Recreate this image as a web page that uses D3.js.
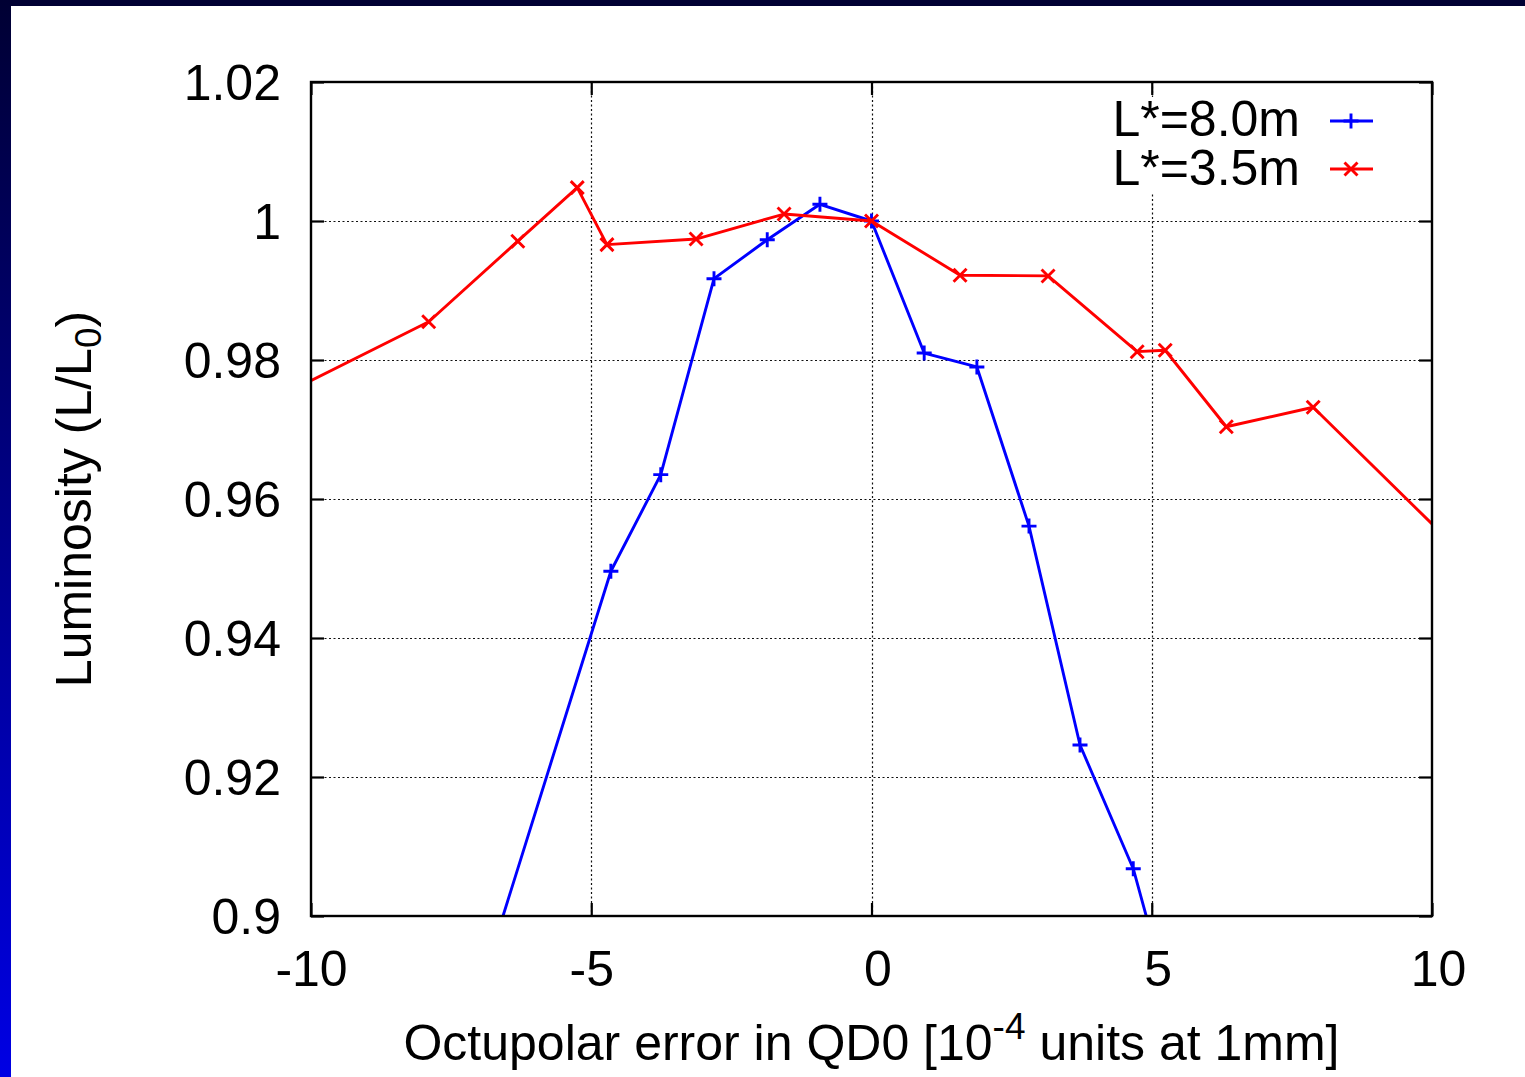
<!DOCTYPE html>
<html>
<head>
<meta charset="utf-8">
<script src="https://cdn.jsdelivr.net/npm/d3@7"></script>
<style>
  html, body { margin: 0; padding: 0; background: #fff; }
  svg { display: block; }
  text { font-family: "Liberation Sans", Arial, sans-serif; fill: #000; }
</style>
</head>
<body>
<svg id="chart" width="1525" height="1077"></svg>
<script>
// Octupolar error (10^-4 units at 1mm) and relative luminosity L/L0
const xLong = [-7.44, -4.65, -3.76, -2.81, -1.86, -0.92, 0, 0.94, 1.88, 2.81, 3.72, 4.67, 5.6];
const lumLong = [0.8777, 0.9496, 0.9635, 0.9917, 0.9973, 1.0024, 1.0, 0.981, 0.979, 0.9561, 0.9246, 0.9068, 0.8795];

const xShort = [-11.0, -7.9, -6.31, -5.25, -4.72, -3.13, -1.56, 0, 1.58, 3.15, 4.74, 5.24, 6.33, 7.88, 11.0];
const lumShort = [0.973, 0.9855, 0.9971, 1.0048, 0.9966, 0.9974, 1.001, 1.0, 0.9922, 0.9921, 0.9812, 0.9814, 0.9704, 0.9732, 0.9485];

const seriesNames = ["L*=8.0m", "L*=3.5m"];
const seriesColors = ["#0000ff", "#ff0000"];

const xTicks = [-10, -5, 0, 5, 10];
const xTickLabels = ["-10", "-5", "0", "5", "10"];
const yTicks = [0.9, 0.92, 0.94, 0.96, 0.98, 1.0, 1.02];
const yTickLabels = ["0.9", "0.92", "0.94", "0.96", "0.98", "1", "1.02"];

const W = 1525, H = 1077;
const plot = { left: 311, right: 1432, top: 82, bottom: 916 };
const FONT = 50;
const LW = 2.9;

const svg = d3.select("#chart");

// slide-style frame: dark strip on top, blue gradient strip on the left
const defs = svg.append("defs");
const grad = defs.append("linearGradient").attr("id", "sideGrad")
  .attr("x1", 0).attr("y1", 0).attr("x2", 0).attr("y2", 1);
grad.append("stop").attr("offset", "0%").attr("stop-color", "#000033");
grad.append("stop").attr("offset", "100%").attr("stop-color", "#0000e4");
svg.append("rect").attr("x", 0).attr("y", 0).attr("width", W).attr("height", H).attr("fill", "#fff");
svg.append("rect").attr("x", 0).attr("y", 0).attr("width", W).attr("height", 6).attr("fill", "#000033");
svg.append("rect").attr("x", 0).attr("y", 0).attr("width", 11).attr("height", H).attr("fill", "url(#sideGrad)");

defs.append("clipPath").attr("id", "plotClip").append("rect")
  .attr("x", plot.left).attr("y", plot.top)
  .attr("width", plot.right - plot.left).attr("height", plot.bottom - plot.top);

const x = d3.scaleLinear().domain([-10, 10]).range([plot.left, plot.right]);
const y = d3.scaleLinear().domain([0.9, 1.02]).range([plot.bottom, plot.top]);

// dotted grid
const grid = svg.append("g").attr("stroke", "#111").attr("stroke-width", 1.2)
  .attr("stroke-dasharray", "2,2.5");
grid.selectAll("line.gx").data(xTicks.filter(v => v > -10 && v < 10)).join("line")
  .attr("x1", d => Math.round(x(d)) + 0.5).attr("x2", d => Math.round(x(d)) + 0.5)
  .attr("y1", plot.top).attr("y2", plot.bottom);
grid.selectAll("line.gy").data(yTicks.filter(v => v > 0.9 && v < 1.02)).join("line")
  .attr("y1", d => Math.round(y(d)) + 0.5).attr("y2", d => Math.round(y(d)) + 0.5)
  .attr("x1", plot.left).attr("x2", plot.right);

// axes with inward ticks (mirrored on top/right)
const TICK = 13;
function styleAxis(g) {
  g.select(".domain").remove();
  g.selectAll(".tick line").attr("stroke", "#000").attr("stroke-width", 2.2);
  g.selectAll("text").style("font-size", FONT + "px").attr("fill", "#000");
}
const yLabel = d3.scaleOrdinal().domain(yTicks).range(yTickLabels);
const xLabel = d3.scaleOrdinal().domain(xTicks).range(xTickLabels);

svg.append("g").attr("transform", `translate(${plot.left},0)`)
  .call(d3.axisLeft(y).tickValues(yTicks).tickFormat(d => yLabel(d)).tickSizeInner(-TICK).tickSizeOuter(0).tickPadding(30))
  .call(styleAxis)
  .call(g => g.selectAll("text").attr("dy", "0.35em"));
svg.append("g").attr("transform", `translate(${plot.right},0)`)
  .call(d3.axisRight(y).tickValues(yTicks).tickFormat("").tickSizeInner(-TICK).tickSizeOuter(0))
  .call(styleAxis);
svg.append("g").attr("transform", `translate(0,${plot.bottom})`)
  .call(d3.axisBottom(x).tickValues(xTicks).tickFormat(d => xLabel(d)).tickSizeInner(-TICK).tickSizeOuter(0).tickPadding(34))
  .call(styleAxis)
  .call(g => g.selectAll("text").attr("dx", d => d >= 0 ? 6 : 0));
svg.append("g").attr("transform", `translate(0,${plot.top})`)
  .call(d3.axisTop(x).tickValues(xTicks).tickFormat("").tickSizeInner(-TICK).tickSizeOuter(0))
  .call(styleAxis);

// series
const plus = "M-7.5,0H7.5M0,-7.5V7.5";
const cross = "M-6.5,-6.5L6.5,6.5M-6.5,6.5L6.5,-6.5";
const series = [
  { name: seriesNames[0], color: seriesColors[0], xs: xLong, ys: lumLong, marker: plus },
  { name: seriesNames[1], color: seriesColors[1], xs: xShort, ys: lumShort, marker: cross }
];
const line = d3.line().x(d => x(d[0])).y(d => y(d[1]));
const plotG = svg.append("g").attr("clip-path", "url(#plotClip)");
series.forEach(s => {
  const pts = s.xs.map((v, i) => [v, s.ys[i]]);
  plotG.append("path").datum(pts).attr("d", line)
    .attr("fill", "none").attr("stroke", s.color).attr("stroke-width", LW)
    .attr("stroke-linejoin", "round");
  plotG.selectAll(null).data(pts).join("path")
    .attr("transform", d => `translate(${x(d[0])},${y(d[1])})`)
    .attr("d", s.marker).attr("stroke", s.color).attr("stroke-width", LW).attr("fill", "none");
});

// border
svg.append("rect").attr("x", plot.left).attr("y", plot.top)
  .attr("width", plot.right - plot.left).attr("height", plot.bottom - plot.top)
  .attr("fill", "none").attr("stroke", "#000").attr("stroke-width", 2.4);

// legend
svg.append("rect").attr("x", 1104).attr("y", 97).attr("width", 285).attr("height", 97).attr("fill", "#fff");
const legendRows = [{ base: 136, mid: 121 }, { base: 185, mid: 169 }];
series.forEach((s, i) => {
  const r = legendRows[i];
  svg.append("text").attr("x", 1300).attr("y", r.base).attr("text-anchor", "end")
    .style("font-size", FONT + "px").text(s.name);
  svg.append("line").attr("x1", 1330).attr("x2", 1373).attr("y1", r.mid).attr("y2", r.mid)
    .attr("stroke", s.color).attr("stroke-width", LW);
  svg.append("path").attr("transform", `translate(1351,${r.mid})`).attr("d", s.marker)
    .attr("stroke", s.color).attr("stroke-width", LW).attr("fill", "none");
});

// axis titles
const xt = svg.append("text").attr("x", (plot.left + plot.right) / 2).attr("y", 1060)
  .attr("text-anchor", "middle").style("font-size", FONT + "px");
xt.append("tspan").text("Octupolar error in QD0 [10");
xt.append("tspan").attr("dy", -21).style("font-size", "37px").text("-4");
xt.append("tspan").attr("dy", 21).text(" units at 1mm]");

const yt = svg.append("text").attr("transform", `translate(91,${(plot.top + plot.bottom) / 2}) rotate(-90)`)
  .attr("text-anchor", "middle").style("font-size", FONT + "px");
yt.append("tspan").text("Luminosity (L/L");
yt.append("tspan").attr("dy", 10).style("font-size", "37px").text("0");
yt.append("tspan").attr("dy", -10).text(")");
</script>
</body>
</html>
